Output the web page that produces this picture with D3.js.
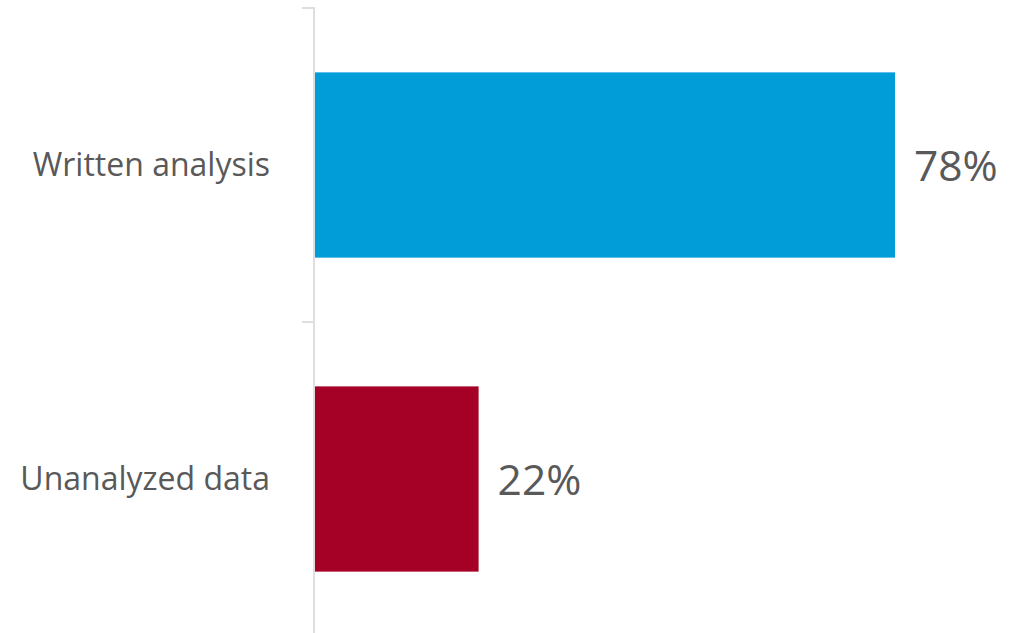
<!DOCTYPE html>
<html>
<head>
<meta charset="utf-8">
<script src="https://cdn.jsdelivr.net/npm/d3@7"></script>
<style>
  body { margin: 0; background: #fff; }
  svg { display: block; }
  text { font-family: "Open Sans", sans-serif; fill: #595959; }
</style>
</head>
<body>
<svg id="chart" width="1012" height="633"></svg>
<script>

var categories = ["Written analysis", "Unanalyzed data"]
var shares = [78, 22]
var barColors = ["#009DD9", "#A50026"]
var valueLabels = ["78%", "22%"]

var svg = d3.select("#chart")

var x = d3.scaleLinear().domain([0, 100]).range([315, 1058.6])
var y = d3.scaleBand().domain(categories).range([8, 636]).paddingInner(0.41).paddingOuter(0.205)

// band edges for the little ticks on the axis
var edges = d3.scaleBand().domain(categories).range([8, 636])

var axis = svg.append("g")
axis.append("line")
    .attr("x1", 314).attr("x2", 314)
    .attr("y1", 7).attr("y2", 636)
    .attr("stroke", "#dedede").attr("stroke-width", 2)

axis.selectAll("line.tick").data(categories).enter().append("line")
    .attr("class", "tick")
    .attr("x1", 302).attr("x2", 314)
    .attr("y1", function(d) {return edges(d)})
    .attr("y2", function(d) {return edges(d)})
    .attr("stroke", "#dedede").attr("stroke-width", 2)

svg.selectAll("rect.bar").data(categories).enter().append("rect")
    .attr("class", "bar")
    .attr("x", x(0))
    .attr("y", function(d) {return y(d)})
    .attr("width", function(d, i) {return x(shares[i]) - x(0)})
    .attr("height", y.bandwidth())
    .attr("fill", function(d, i) {return barColors[i]})

svg.selectAll("text.cat").data(categories).enter().append("text")
    .attr("class", "cat")
    .attr("x", 270)
    .attr("y", function(d) {return y(d) + y.bandwidth() / 2})
    .attr("dy", "0.35em")
    .attr("text-anchor", "end")
    .style("font-size", "32px")
    .text(function(d) {return d})

svg.selectAll("text.val").data(categories).enter().append("text")
    .attr("class", "val")
    .attr("x", function(d, i) {return x(shares[i]) + 19})
    .attr("y", function(d) {return y(d) + y.bandwidth() / 2})
    .attr("dy", "0.38em")
    .style("font-size", "42.5px")
    .text(function(d, i) {return valueLabels[i]})

</script>
</body>
</html>
